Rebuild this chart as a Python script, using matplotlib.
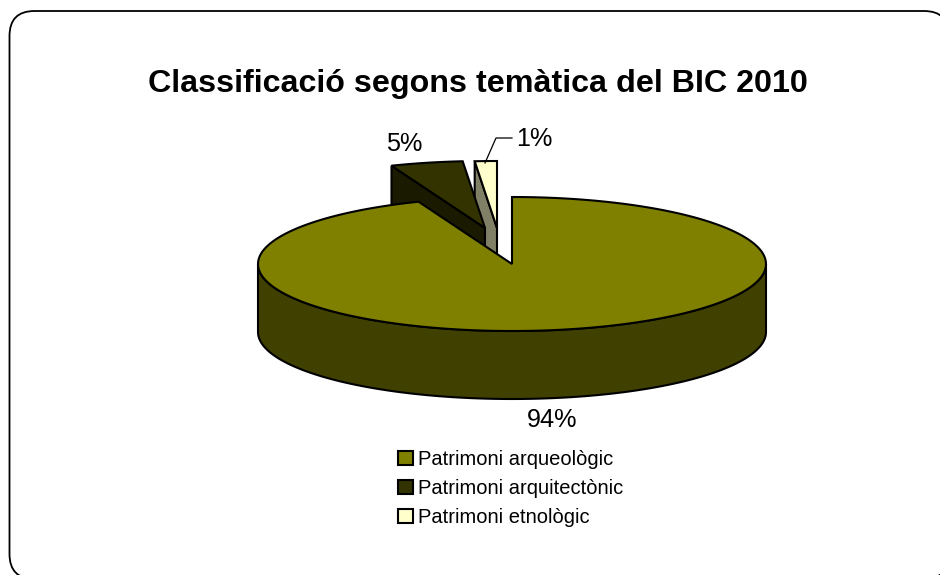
import numpy as np
import matplotlib
matplotlib.use('Agg')
import matplotlib.pyplot as plt
from matplotlib.patches import FancyBboxPatch, Patch

title = 'Classificació segons temàtica del BIC 2010'
categories = ['Patrimoni arqueològic', 'Patrimoni arquitectònic', 'Patrimoni etnològic']
values = [94.0, 4.6, 1.4]
top_colors = ['#808000', '#333300', '#FFFFCC']
side_colors = ['#404000', '#1A1A00', '#808066']

plt.rcParams['font.family'] = ['Liberation Sans', 'DejaVu Sans']

# pie geometry, in pixels of the picture
cx, cy = 512, 264
rx, ry = 254, 67
depth = 68
# how far each slice is pulled out of the centre
offsets = [(0, 0), (-27, -36), (-15, -36)]


def rim(a0, a1, ox, oy, dy=0):
    # angles are clockwise from 12 o'clock, like the spreadsheet pie
    a = np.radians(np.linspace(a0, a1, 200))
    return cx + ox + rx * np.sin(a), cy + oy + dy - ry * np.cos(a)


fig = plt.figure(figsize=(9.4, 5.75), dpi=100)
ax = fig.add_axes([0, 0, 1, 1])
ax.set_xlim(0, 940)
ax.set_ylim(575, 0)
ax.axis('off')

ax.add_patch(FancyBboxPatch((9.5, 11), 939.5, 568, boxstyle='round,pad=0,rounding_size=25',
                            fc='white', ec='black', lw=1.3))

shares = np.array(values) / sum(values) * 360
ends = np.cumsum(shares)
starts = ends - shares

# small slices first, the big one is drawn over them
for i in [2, 1, 0]:
    ox, oy = offsets[i]
    x0, y0 = cx + ox, cy + oy
    xs, ys = rim(starts[i], ends[i], ox, oy)
    if i == 0:
        # front wall, only the lower half of the rim shows
        xw, yw = rim(90, 270, ox, oy)
        ax.fill(np.r_[xw, xw[::-1]], np.r_[yw, yw[::-1] + depth],
                fc=side_colors[i], ec='black', lw=1.5, joinstyle='round')
    else:
        # wall along the left cut of the slice
        ax.fill([x0, xs[0], xs[0], x0], [y0, ys[0], ys[0] + depth, y0 + depth],
                fc=side_colors[i], ec='black', lw=1.5)
    ax.fill(np.r_[x0, xs], np.r_[y0, ys], fc=top_colors[i], ec='black', lw=1.5)

ax.text(478, 84, title, fontsize=23.2, fontweight='bold', ha='center', va='center')

# data labels
ax.text(552, 420, '%.0f%%' % values[0], fontsize=18.2, ha='center', va='center')
ax.text(404, 144, '%.0f%%' % values[1], fontsize=18.2, ha='center', va='center')
ax.text(534, 139, '%.0f%%' % values[2], fontsize=18.2, ha='center', va='center')
ax.plot([485, 496, 512], [163, 138, 138], color='black', lw=0.9)

handles = [Patch(fc=c, ec='black', lw=1.5) for c in top_colors]
ax.legend(handles, categories, loc='upper left', bbox_to_anchor=(398 / 940, 1 - 450 / 575),
          frameon=False, fontsize=14.5, handlelength=0.72, handleheight=0.72,
          handletextpad=0.28, labelspacing=0.5, borderpad=0, borderaxespad=0)

fig.savefig('out.png', dpi=100)
